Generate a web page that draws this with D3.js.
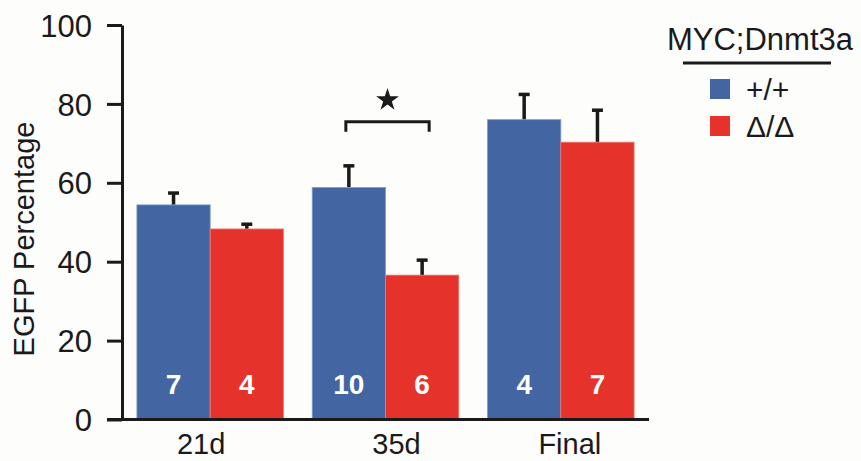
<!DOCTYPE html>
<html>
<head>
<meta charset="utf-8">
<script src="https://cdn.jsdelivr.net/npm/d3@7/dist/d3.min.js"></script>
<style>
  html, body { margin: 0; padding: 0; background: #fdfdfc; }
  svg { display: block; }
  text { font-family: "Liberation Sans", Arial, Helvetica, sans-serif; fill: #1a1a1a; }
</style>
</head>
<body>
<svg id="chart" width="861" height="461"></svg>
<script>
// ---- data ----
const categories = ["21d", "35d", "Final"];
const seriesNames = ["+/+", "\u0394/\u0394"];
const wildType = [54.4, 58.8, 76.0];
const deleted = [48.3, 36.6, 70.3];
const wildTypeErr = [3.0, 5.5, 6.4];
const deletedErr = [1.2, 3.8, 8.1];
const wildTypeN = ["7", "10", "4"];
const deletedN = ["4", "6", "7"];
const yTicks = [0, 20, 40, 60, 80, 100];
const legendTitle = "MYC;Dnmt3a";
const yLabel = "EGFP Percentage";
const sigCategory = "35d";

// ---- style ----
const colors = ["#4366a3", "#e5332b"];
const edgeColors = ["#7f9acb", "#f07a70"];
const ink = "#1a1a1a";
const labelDx = [-9, 11, 9];

const svg = d3.select("#chart");

const y = d3.scaleLinear().domain([0, 100]).range([419.5, 25]);
const x0 = d3.scaleBand().domain(categories).range([122, 649])
  .paddingInner(0.164).paddingOuter(0.085);
const x1 = d3.scaleBand().domain(seriesNames).range([0, x0.bandwidth()]).padding(0);
const color = d3.scaleOrdinal().domain(seriesNames).range(colors);
const edge = d3.scaleOrdinal().domain(seriesNames).range(edgeColors);

const rows = [];
categories.forEach((c, i) => {
  rows.push({ cat: c, s: seriesNames[0], v: wildType[i], e: wildTypeErr[i], n: wildTypeN[i] });
  rows.push({ cat: c, s: seriesNames[1], v: deleted[i], e: deletedErr[i], n: deletedN[i] });
});
const cx = d => x0(d.cat) + x1(d.s) + x1.bandwidth() / 2;

// error bars (drawn behind bars)
const eg = svg.append("g").attr("stroke", ink).attr("stroke-width", 3.5);
eg.selectAll("line.v").data(rows).join("line")
  .attr("x1", cx).attr("x2", cx)
  .attr("y1", d => y(d.v)).attr("y2", d => y(d.v + d.e));
eg.selectAll("line.c").data(rows).join("line")
  .attr("x1", d => cx(d) - 5.5).attr("x2", d => cx(d) + 5.5)
  .attr("y1", d => y(d.v + d.e)).attr("y2", d => y(d.v + d.e));

// bars
svg.append("g").selectAll("rect").data(rows).join("rect")
  .attr("x", d => x0(d.cat) + x1(d.s))
  .attr("width", x1.bandwidth())
  .attr("y", d => y(d.v))
  .attr("height", d => y(0) - y(d.v))
  .attr("fill", d => color(d.s))
  .attr("stroke", d => edge(d.s))
  .attr("stroke-width", 0.8);

// n labels
svg.append("g").selectAll("text").data(rows).join("text")
  .attr("x", cx).attr("y", 394)
  .attr("text-anchor", "middle")
  .style("fill", "#ffffff")
  .style("font-weight", "bold")
  .style("font-size", "28px")
  .text(d => d.n);

// y axis
const yAxis = svg.append("g").attr("transform", "translate(122,0)")
  .call(d3.axisLeft(y).tickValues(yTicks).tickSize(15).tickSizeOuter(0).tickPadding(15));
yAxis.select(".domain").attr("stroke", ink).attr("stroke-width", 3);
yAxis.selectAll(".tick line").attr("stroke", ink).attr("stroke-width", 3);
yAxis.selectAll(".tick text").style("font-size", "31px").style("fill", ink)
  .attr("font-family", null).attr("dy", "0.36em");

// x axis
const xAxis = svg.append("g").attr("transform", `translate(0,${y(0)})`)
  .call(d3.axisBottom(x0).tickSize(0).tickSizeOuter(0).tickPadding(14));
xAxis.select(".domain").attr("d", "M107,0H649").attr("stroke", ink).attr("stroke-width", 3);
xAxis.selectAll(".tick text").style("font-size", "29px").style("fill", ink)
  .attr("font-family", null)
  .attr("dx", (d, i) => labelDx[i]);

// y label
svg.append("text")
  .attr("transform", "translate(34,239) rotate(-90)")
  .attr("text-anchor", "middle")
  .style("font-size", "29px")
  .text(yLabel);

// significance bracket
const bxL = x0(sigCategory) + x1(seriesNames[0]) + x1.bandwidth() / 2 - 3;
const bxR = x0(sigCategory) + x1(seriesNames[1]) + x1.bandwidth() / 2 + 7;
svg.append("path")
  .attr("d", `M${bxL},131.7V121.7H${bxR}V131.7`)
  .attr("fill", "none").attr("stroke", ink).attr("stroke-width", 3);
svg.append("path")
  .attr("d", d3.symbol().type(d3.symbolStar).size(160)())
  .attr("transform", `translate(${(bxL + bxR) / 2},100)`)
  .attr("fill", ink);

// legend
const lg = svg.append("g");
lg.append("text").attr("x", 760).attr("y", 50).attr("text-anchor", "middle")
  .style("font-size", "31px").text(legendTitle);
lg.append("line").attr("x1", 683).attr("x2", 831).attr("y1", 63).attr("y2", 63)
  .attr("stroke", ink).attr("stroke-width", 3);
seriesNames.forEach((s, i) => {
  lg.append("rect").attr("x", 710).attr("y", 79 + i * 37).attr("width", 20).attr("height", 20)
    .attr("fill", color(s));
  lg.append("text").attr("x", 746).attr("y", 100 + i * 37)
    .style("font-size", "30px").text(s);
});
</script>
</body>
</html>
